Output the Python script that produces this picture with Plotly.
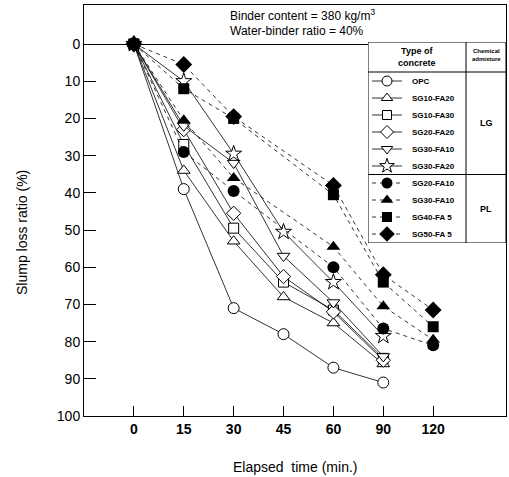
import plotly.graph_objects as go

# ---------------- data ----------------
categories = ['0', '15', '30', '45', '60', '90', '120']
x_lg = ['0', '15', '30', '45', '60', '90']
x_pl = ['0', '15', '30', '60', '90', '120']

opc        = [0, 39, 71, 78, 87, 91]
sg10_fa20  = [0, 34, 53, 68, 75, 86]
sg10_fa30  = [0, 27, 49.5, 64, 71.5, 84.5]
sg20_fa20  = [0, 23, 45.5, 62.5, 72, 85]
sg30_fa10l = [0, 22, 32, 57, 69.5, 84]
sg30_fa20  = [0, 10, 29.5, 50.5, 64, 78.5]

sg20_fa10  = [0, 29, 39.5, 60, 76.5, 81]
sg30_fa10p = [0, 20.5, 36, 54.5, 70.5, 79.5]
sg40_fa5   = [0, 12, 20, 40.5, 64, 76]
sg50_fa5   = [0, 5.5, 19.5, 38, 62, 71.5]

lg_names = ['OPC', 'SG10-FA20', 'SG10-FA30', 'SG20-FA20', 'SG30-FA10', 'SG30-FA20']
pl_names = ['SG20-FA10', 'SG30-FA10', 'SG40-FA 5', 'SG50-FA 5']
y_ticks = [0, 10, 20, 30, 40, 50, 60, 70, 80, 90, 100]

# ---------------- styles ----------------
lg_series = [
    (lg_names[0], opc, 'circle', 11),
    (lg_names[1], sg10_fa20, 'triangle-up', 11),
    (lg_names[2], sg10_fa30, 'square', 10),
    (lg_names[3], sg20_fa20, 'diamond', 11),
    (lg_names[4], sg30_fa10l, 'triangle-down', 11),
    (lg_names[5], sg30_fa20, 'star', 12),
]
pl_series = [
    (pl_names[0], sg20_fa10, 'circle', 12),
    (pl_names[1], sg30_fa10p, 'triangle-up', 12),
    (pl_names[2], sg40_fa5, 'square', 11),
    (pl_names[3], sg50_fa5, 'diamond', 13),
]

FONT = 'Liberation Sans, Arial, sans-serif'
fig = go.Figure()

for name, vals, sym, sz in lg_series:
    fig.add_trace(go.Scatter(
        x=x_lg, y=vals, mode='lines+markers', name=name, showlegend=False,
        line=dict(color='black', width=0.8),
        marker=dict(symbol=sym, size=sz, color='white', line=dict(color='black', width=1)),
    ))
for name, vals, sym, sz in pl_series:
    fig.add_trace(go.Scatter(
        x=x_pl, y=vals, mode='lines+markers', name=name, showlegend=False,
        line=dict(color='black', width=0.8, dash='4px,4px'),
        marker=dict(symbol=sym, size=sz, color='black', line=dict(color='black', width=0)),
    ))

# ---------------- custom legend table on helper axes ----------------
L, R, T, B = 368, 506, 42, 243
row0, step = 81, 17
all_items = [(s, False) for s in lg_series] + [(s, True) for s in pl_series]
for i, ((name, vals, sym, sz), dashed) in enumerate(all_items):
    yy = row0 + step * i
    fig.add_trace(go.Scatter(
        x=[372, 402], y=[yy, yy], mode='lines', xaxis='x2', yaxis='y2', showlegend=False,
        line=dict(color='black', width=0.8, dash='4px,4px' if dashed else 'solid'),
        hoverinfo='skip'))
    fig.add_trace(go.Scatter(
        x=[387], y=[yy], mode='markers', xaxis='x2', yaxis='y2', showlegend=False,
        marker=dict(symbol=sym, size=sz - 1,
                    color='black' if dashed else 'white',
                    line=dict(color='black', width=0 if dashed else 1)),
        hoverinfo='skip'))
    fig.add_annotation(x=410, y=yy, xref='x2', yref='y2', text=f'<b>{name}</b>',
                       showarrow=False, xanchor='left', yanchor='middle',
                       font=dict(family=FONT, size=8, color='black'))

sep = row0 + step * 5.5
shapes = [
    dict(type='rect', xref='x2', yref='y2', x0=L, x1=R, y0=T, y1=B,
         line=dict(color='black', width=1), fillcolor='white', layer='below'),
    dict(type='line', xref='x2', yref='y2', x0=466, x1=466, y0=T, y1=B,
         line=dict(color='black', width=1)),
    dict(type='line', xref='x2', yref='y2', x0=L, x1=R, y0=72, y1=72,
         line=dict(color='black', width=1)),
    dict(type='line', xref='x2', yref='y2', x0=L, x1=R, y0=sep, y1=sep,
         line=dict(color='black', width=1)),
]
fig.add_annotation(x=417, y=57, xref='x2', yref='y2', text='<b>Type of<br>concrete</b>',
                   showarrow=False, font=dict(family=FONT, size=9, color='black'))
fig.add_annotation(x=486, y=55, xref='x2', yref='y2', text='<b>Chemical<br>admixture</b>',
                   showarrow=False, font=dict(family=FONT, size=6, color='black'))
fig.add_annotation(x=486, y=(72 + sep) / 2, xref='x2', yref='y2', text='<b>LG</b>',
                   showarrow=False, font=dict(family=FONT, size=9, color='black'))
fig.add_annotation(x=486, y=(sep + B) / 2, xref='x2', yref='y2', text='<b>PL</b>',
                   showarrow=False, font=dict(family=FONT, size=9, color='black'))

# ---------------- text ----------------
fig.add_annotation(x=(228 - 84) / 422, y=(416 - 15) / 411, xref='paper', yref='paper',
                   text='Binder content = 380 kg/m<sup>3</sup>', showarrow=False,
                   xanchor='left', yanchor='middle', font=dict(family=FONT, size=12, color='black'))
fig.add_annotation(x=(228 - 84) / 422, y=(416 - 31) / 411, xref='paper', yref='paper',
                   text='Water-binder ratio = 40%', showarrow=False,
                   xanchor='left', yanchor='middle', font=dict(family=FONT, size=12, color='black'))
fig.add_annotation(x=(22 - 84) / 422, y=(416 - 233) / 411, xref='paper', yref='paper',
                   text='Slump loss ratio (%)', textangle=-90, showarrow=False,
                   xanchor='center', yanchor='middle', font=dict(family=FONT, size=14, color='black'))
fig.add_annotation(x=0.5, y=(416 - 467) / 411, xref='paper', yref='paper',
                   text='Elapsed  time (min.)', showarrow=False,
                   xanchor='center', yanchor='middle', font=dict(family=FONT, size=14, color='black'))

fig.update_layout(
    width=509, height=477,
    margin=dict(l=84, r=3, t=5, b=61),
    paper_bgcolor='white', plot_bgcolor='white',
    showlegend=False,
    shapes=shapes,
    xaxis=dict(type='category', categoryorder='array', categoryarray=categories,
               range=[-1, 7.46], showgrid=False, zeroline=False,
               showline=True, mirror=True, linecolor='black', linewidth=1,
               ticks='inside', ticklen=10, tickcolor='black', tickwidth=1,
               tickfont=dict(family=FONT, size=14, color='black'),
               tickprefix='<b>', ticksuffix='</b>'),
    yaxis=dict(range=[100, -10.5], tickvals=y_ticks, showgrid=False,
               zeroline=True, zerolinecolor='black', zerolinewidth=1,
               showline=True, mirror=True, linecolor='black', linewidth=1,
               ticks='inside', ticklen=12, tickcolor='black', tickwidth=1,
               tickfont=dict(family=FONT, size=14, color='black'),
               tickprefix='<b>', ticksuffix='</b>'),
    xaxis2=dict(domain=[(L - 84) / 422, 1], range=[L, R], anchor='y2', visible=False,
                fixedrange=True),
    yaxis2=dict(domain=[(416 - B) / 411, (416 - T) / 411], range=[B, T], anchor='x2',
                visible=False, fixedrange=True),
)

fig.write_html('out.html')
